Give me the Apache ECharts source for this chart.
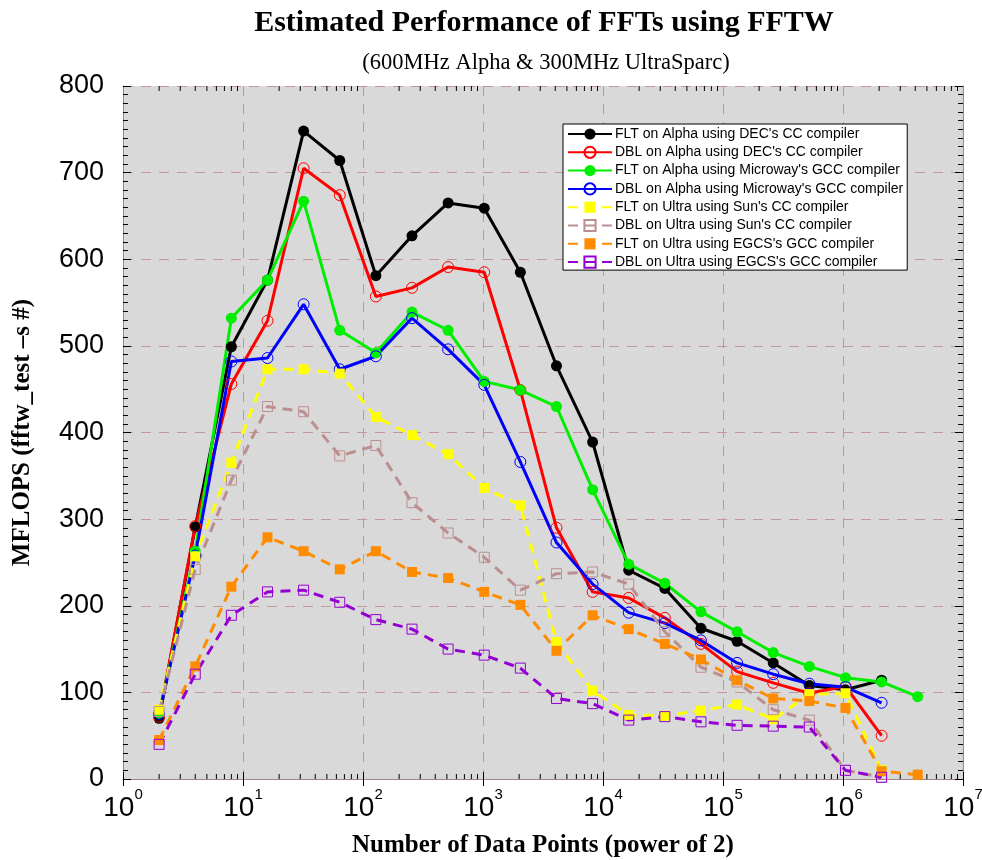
<!DOCTYPE html>
<html>
<head>
<meta charset="utf-8">
<script src="https://cdn.jsdelivr.net/npm/echarts@6/dist/echarts.min.js"></script>
<style>html,body{margin:0;padding:0;background:#fff;}#chart{width:982px;height:860px;}</style>
</head>
<body>
<div id="chart"></div>
<script>
// Number of data points (powers of two)
const xValues = [2,4,8,16,32,64,128,256,512,1024,2048,4096,8192,16384,32768,65536,131072,262144,524288,1048576,2097152,4194304];

// MFLOPS per series
const fltAlphaDec  = [70,291,499,576,748,714,581,627,665,659,585,477,389,241,220,174,159,134,108,103,114];
const dblAlphaDec  = [72,292,456,529,705,674,557,567,591,585,449,290,216,209,186,156,124,111,99,107,50];
const fltAlphaGcc  = [76,263,532,576,667,518,492,539,518,459,449,430,334,248,226,193,170,146,130,117,112,95];
const dblAlphaGcc  = [75,258,482,486,548,473,488,532,496,455,366,273,225,192,180,160,134,121,110,106,88];
const fltUltraSun  = [80,257,365,473,473,468,418,397,375,336,316,158,102,74,73,79,86,69,98,99,10];
const dblUltraSun  = [78,242,345,430,424,373,385,319,284,256,218,237,239,225,170,129,112,80,68,10,2];
const fltUltraEgcs = [45,130,222,279,263,242,263,239,232,216,201,148,189,173,156,138,114,93,90,82,9,5];
const dblUltraEgcs = [40,121,189,216,218,204,184,173,150,143,128,93,87,68,72,66,62,61,60,10,2];

const seriesNames = [
  "FLT on Alpha using DEC's CC compiler",
  "DBL on Alpha using DEC's CC compiler",
  "FLT on Alpha using Microway's GCC compiler",
  "DBL on Alpha using Microway's GCC compiler",
  "FLT on Ultra using Sun's CC compiler",
  "DBL on Ultra using Sun's CC compiler",
  "FLT on Ultra using EGCS's GCC compiler",
  "DBL on Ultra using EGCS's GCC compiler"
];

// log-axis minor tick positions (2..9 x 10^k)
const minorTickValues = [];
[1,10,100,1000,10000,100000,1000000].forEach(function (d) {
  [2,3,4,5,6,7,8,9].forEach(function (m) { minorTickValues.push([m * d]); });
});

function pairs(vals) { return vals.map(function (v, i) { return [xValues[i], v]; }); }

const styles = [
  {data: fltAlphaDec,  color: '#000000', symbol: 'circle', filled: true,  dashed: false, size: 11},
  {data: dblAlphaDec,  color: '#ff0000', symbol: 'circle', filled: false, dashed: false, size: 11},
  {data: fltAlphaGcc,  color: '#00ee00', symbol: 'circle', filled: true,  dashed: false, size: 11},
  {data: dblAlphaGcc,  color: '#0000ff', symbol: 'circle', filled: false, dashed: false, size: 11},
  {data: fltUltraSun,  color: '#ffff00', symbol: 'rect',   filled: true,  dashed: true,  size: 10},
  {data: dblUltraSun,  color: '#bc8f8f', symbol: 'rect',   filled: false, dashed: true,  size: 10},
  {data: fltUltraEgcs, color: '#ff8c00', symbol: 'rect',   filled: true,  dashed: true,  size: 10},
  {data: dblUltraEgcs, color: '#9400d3', symbol: 'rect',   filled: false, dashed: true,  size: 10}
];

const lineSeries = styles.map(function (s, i) {
  return {
    name: seriesNames[i],
    type: 'line',
    xAxisIndex: 0, yAxisIndex: 0,
    data: pairs(s.data),
    symbol: s.symbol,
    symbolSize: s.size,
    showAllSymbol: true,
    animation: false,
    lineStyle: {color: s.color, width: 3, type: s.dashed ? [10, 7] : 'solid'},
    itemStyle: s.filled
      ? {color: s.color, borderWidth: 0}
      : {color: 'rgba(0,0,0,0)', borderColor: s.color, borderWidth: 1},
    emphasis: {disabled: true},
    z: 3
  };
});

const frameColor = '#a88080';
const gridColor = '#bf9898';
const sans = 'Liberation Sans, Arial, Helvetica, sans-serif';
const serif = 'Liberation Serif, Times New Roman, serif';

const option = {
  animation: false,
  backgroundColor: '#ffffff',
  title: [
    {text: 'Estimated Performance of FFTs using FFTW', left: 539, top: 3, textAlign: 'center',
     textStyle: {fontFamily: serif, fontWeight: 'bold', fontSize: 30, color: '#000'}},
    {text: '(600MHz Alpha & 300MHz UltraSparc)', left: 541, top: 47, textAlign: 'center',
     textStyle: {fontFamily: serif, fontWeight: 'normal', fontSize: 22.5, color: '#000'}}
  ],
  grid: {left: 123, right: 19, top: 86, bottom: 81, outerBoundsMode: 'none', containLabel: false,
         show: true, backgroundColor: '#d9d9d9', borderWidth: 0},
  legend: {
    orient: 'vertical', left: 563, top: 124,
    backgroundColor: '#ffffff', borderColor: '#000', borderWidth: 1,
    padding: [3, 4, 1, 4], itemGap: 4.3, itemWidth: 44, itemHeight: 14,
    data: seriesNames,
    textStyle: {fontFamily: sans, fontSize: 14, lineHeight: 14, color: '#000', padding: [0, 0, 0, -2]},
    selectedMode: false
  },
  xAxis: [
    {type: 'log', logBase: 10, min: 1, max: 10000000, position: 'bottom',
     name: 'Number of Data Points (power of 2)', nameLocation: 'middle', nameGap: 54,
     nameTextStyle: {fontFamily: serif, fontWeight: 'bold', fontSize: 25, color: '#000'},
     axisLine: {show: true, lineStyle: {color: frameColor, width: 1}},
     axisTick: {show: true, inside: true, length: 7, lineStyle: {color: '#000'}},
     splitLine: {show: true, lineStyle: {color: gridColor, type: [10, 8], width: 1}},
     axisLabel: {
       margin: 8,
       formatter: function (v) { return '{b|10}{s|' + Math.round(Math.log10(v)) + '}'; },
       rich: {
         b: {fontFamily: sans, fontSize: 28, lineHeight: 35, color: '#000', verticalAlign: 'bottom'},
         s: {fontFamily: sans, fontSize: 15, lineHeight: 15, color: '#000', verticalAlign: 'top'}
       }
     }},
    {type: 'log', logBase: 10, min: 1, max: 10000000, position: 'top',
     axisLine: {show: true, lineStyle: {color: frameColor, width: 1}},
     axisTick: {show: true, inside: true, length: 7, lineStyle: {color: '#000'}},
     splitLine: {show: false}, axisLabel: {show: false}}
  ],
  yAxis: [
    {type: 'value', min: 0, max: 800, interval: 100, position: 'left',
     name: 'MFLOPS (fftw_test \u2013s #)', nameLocation: 'middle', nameGap: 88,
     nameTextStyle: {fontFamily: serif, fontWeight: 'bold', fontSize: 25, color: '#000'},
     axisLine: {show: true, lineStyle: {color: frameColor, width: 1}},
     axisTick: {show: true, inside: true, length: 8, lineStyle: {color: '#000'}},
     minorTick: {show: true, splitNumber: 10, length: 5, lineStyle: {color: '#000'}},
     splitLine: {show: true, lineStyle: {color: gridColor, type: [10, 8], width: 1}},
     axisLabel: {fontFamily: sans, fontSize: 27, color: '#000', margin: 19}},
    {type: 'value', min: 0, max: 800, interval: 100, position: 'right',
     axisLine: {show: true, lineStyle: {color: frameColor, width: 1}},
     axisTick: {show: true, inside: true, length: 8, lineStyle: {color: '#000'}},
     minorTick: {show: true, splitNumber: 10, length: 5, lineStyle: {color: '#000'}},
     splitLine: {show: false}, axisLabel: {show: false}}
  ],
  series: [
    {
      type: 'custom', name: 'minorTicks', xAxisIndex: 0, yAxisIndex: 0,
      silent: true, animation: false, z: 1,
      data: minorTickValues,
      encode: {x: 0},
      renderItem: function (params, api) {
        const cs = params.coordSys;
        const x = api.coord([api.value(0), 0])[0];
        const top = cs.y, bottom = cs.y + cs.height;
        return {
          type: 'group',
          children: [
            {type: 'line', shape: {x1: x, y1: bottom, x2: x, y2: bottom - 5}, style: {stroke: '#000', lineWidth: 1}},
            {type: 'line', shape: {x1: x, y1: top, x2: x, y2: top + 5}, style: {stroke: '#000', lineWidth: 1}}
          ]
        };
      }
    }
  ].concat(lineSeries)
};

const chart = echarts.init(document.getElementById('chart'), null, {renderer: 'canvas'});
chart.setOption(option);
</script>
</body>
</html>
